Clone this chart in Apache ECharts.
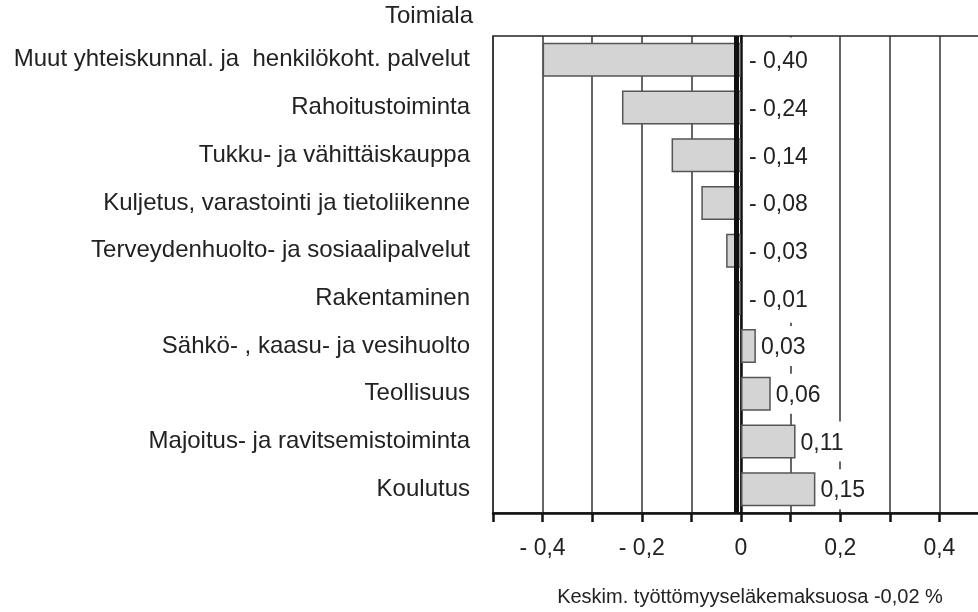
<!DOCTYPE html>
<html>
<head>
<meta charset="utf-8">
<script src="https://cdn.jsdelivr.net/npm/echarts@6/dist/echarts.min.js"></script>
<style>
html,body{margin:0;padding:0;background:#fff;}
#chart{width:978px;height:612px;}
</style>
</head>
<body>
<div id="chart"></div>
<script>
const categories = [
  'Muut yhteiskunnal. ja  henkilökoht. palvelut',
  'Rahoitustoiminta',
  'Tukku- ja vähittäiskauppa',
  'Kuljetus, varastointi ja tietoliikenne',
  'Terveydenhuolto- ja sosiaalipalvelut',
  'Rakentaminen',
  'Sähkö- , kaasu- ja vesihuolto',
  'Teollisuus',
  'Majoitus- ja ravitsemistoiminta',
  'Koulutus'
];
const values = [-0.40, -0.24, -0.14, -0.08, -0.03, -0.01, 0.03, 0.06, 0.11, 0.15];
const averageValue = -0.014;
const axisTitle = 'Toimiala';
const axisName = 'Keskim. työttömyyseläkemaksuosa -0,02 %';

const FONT = "'Liberation Sans', Arial, sans-serif";
function fmtVal(v) {
  const s = Math.abs(v).toFixed(2).replace('.', ',');
  return v < 0 ? '- ' + s : s;
}
function fmtTick(v) {
  const k = Math.round(v * 10);
  if (Math.abs(k) % 2 === 1) return '';
  if (k === 0) return '0';
  const s = Math.abs(v).toFixed(1).replace('.', ',');
  return v < 0 ? '- ' + s : s;
}

const chart = echarts.init(document.getElementById('chart'), null, {renderer: 'canvas'});
chart.setOption({
  animation: false,
  backgroundColor: '#fff',
  grid: {
    left: 493, top: 36, width: 496, height: 477,
    outerBoundsMode: 'none',
    show: true, borderColor: '#222', borderWidth: 1.5, containLabel: false
  },
  xAxis: {
    type: 'value', min: -0.5, max: 0.5, interval: 0.1,
    axisLine: {show: true, onZero: false, lineStyle: {color: '#111', width: 2.5}},
    axisTick: {show: true, length: 9, lineStyle: {color: '#111', width: 2.5}},
    axisLabel: {formatter: fmtTick, fontSize: 23, fontFamily: FONT, color: '#222', margin: 24},
    splitLine: {show: true, lineStyle: {color: '#333', width: 1.5}}
  },
  yAxis: {
    type: 'category', data: categories, inverse: true,
    axisLine: {show: true, lineStyle: {color: '#111', width: 2.5}},
    axisTick: {show: false},
    axisLabel: {fontSize: 24, fontFamily: FONT, color: '#222', margin: 23},
    splitLine: {show: false}
  },
  graphic: [
    {type: 'text', x: 473, y: 16, style: {text: axisTitle, font: '24px ' + FONT, fill: '#222', align: 'right', verticalAlign: 'middle'}},
    {type: 'text', x: 750, y: 597, style: {text: axisName, font: '20px ' + FONT, fill: '#222', align: 'center', verticalAlign: 'middle'}}
  ],
  series: [
    {
      type: 'bar', data: values, barWidth: 34,
      itemStyle: {color: '#d4d4d4', borderColor: '#555', borderWidth: 1.5},
      markLine: {
        silent: true, symbol: 'none', label: {show: false},
        lineStyle: {color: '#111', width: 5, type: 'solid'},
        data: [{xAxis: averageValue}]
      },
      z: 2
    },
    {
      type: 'custom',
      data: values.map((v, i) => [v, i]),
      encode: {x: 0, y: 1},
      z: 3,
      renderItem: function (params, api) {
        const v = api.value(0), idx = api.value(1);
        const p = api.coord([Math.max(0, v), idx]);
        const band = api.size([0, 1])[1];
        const neg = v < 0;
        const x0 = p[0] + (neg ? 7 : 4);
        const h = neg ? band + 1 : 40;
        const gridTop = params.coordSys.y + 1.5;
        let top = p[1] - h / 2;
        if (top < gridTop) top = gridTop;
        const bottom = p[1] + h / 2;
        const txt = fmtVal(v);
        const w = neg ? 64 : 48;
        return {
          type: 'group',
          children: [
            {type: 'rect', shape: {x: x0, y: top, width: w, height: bottom - top}, style: {fill: '#fff'}},
            {type: 'text', x: x0 + 1, y: p[1] + 2, style: {
              text: txt, font: '23px ' + FONT, fill: '#222',
              align: 'left', verticalAlign: 'middle'
            }}
          ]
        };
      }
    }
  ]
});
</script>
</body>
</html>
